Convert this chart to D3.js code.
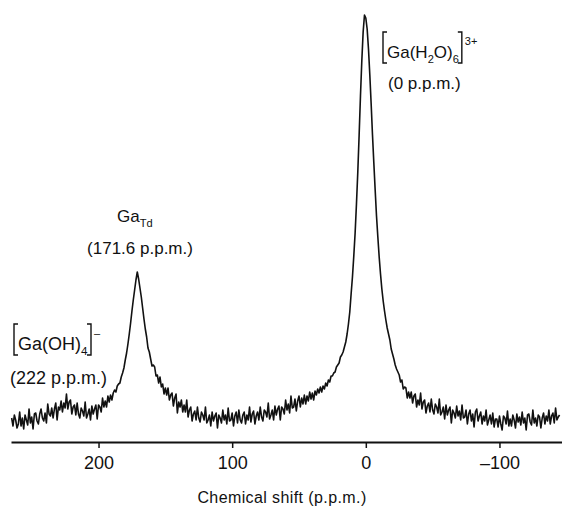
<!DOCTYPE html>
<html>
<head>
<meta charset="utf-8">
<script src="https://cdn.jsdelivr.net/npm/d3@7/dist/d3.min.js"></script>
<style>
  body { margin: 0; background: #fff; }
  text { font-family: "Liberation Sans", Arial, sans-serif; fill: #111; }
</style>
</head>
<body>
<svg id="chart" width="562" height="509"></svg>
<script>
// 71Ga spectrum, one point per p.p.m. from 265 down to -145 (arbitrary units)
var shiftStart = 265;
var shiftStep = -1;
var intensity = [
    24,16,27,22,14,18,30,16,24,13,
    27,22,17,33,19,25,13,28,29,21,
    18,28,33,24,21,29,19,38,28,26,
    34,24,33,39,22,35,32,41,30,39,
    34,48,33,40,42,28,35,37,27,39,
    28,24,34,31,26,40,24,28,33,22,
    36,28,33,37,23,37,35,30,44,35,
    41,35,46,40,47,42,49,52,50,56,
    58,59,65,69,74,82,89,98,108,119,
    131,142,152,162,170,163,154,145,134,123,
    113,105,94,90,83,76,77,75,66,67,
    59,65,55,58,48,54,47,54,42,47,
    49,36,44,48,29,40,35,42,30,37,
    30,42,25,32,35,21,28,31,22,35,
    24,20,30,27,22,35,19,22,27,16,
    30,21,26,29,14,27,24,19,32,22,
    27,18,34,21,22,29,16,26,30,19,
    32,22,19,27,30,18,27,22,35,20,
    28,31,18,26,30,22,35,25,21,32,
    30,25,39,23,27,32,22,36,27,33,
    36,22,35,33,28,42,32,38,29,46,
    34,35,43,31,41,46,35,44,38,47,
    38,46,41,50,43,49,42,51,47,53,
    49,55,50,56,53,59,56,62,60,66,
    66,69,70,75,77,79,85,87,90,95,
    100,108,118,130,148,165,186,209,238,270,
    307,346,381,410,427,424,413,393,367,338,
    307,279,252,226,205,185,168,153,141,131,
    122,114,108,102,93,88,83,77,73,70,
    67,60,62,53,55,54,44,50,44,50,
    39,46,48,35,42,37,49,33,40,42,
    29,36,39,30,43,32,28,38,35,29,
    43,27,30,35,23,37,27,32,35,19,
    32,29,24,36,26,31,22,37,24,25,
    32,18,28,32,21,28,15,30,33,21,
    26,30,18,26,21,32,17,22,27,18,
    29,15,23,23,15,26,18,12,26,24,
    18,31,16,23,16,27,22,14,28,20,
    25,17,30,19,24,12,27,28,20,17,
    32,19,24,16,27,25,14,24,29,18,
    26,21,32,18,26,29,19,34,22,25,
    27
];
var tickValues = [200, 100, 0, -100];
var axisTitle = "Chemical shift (p.p.m.)";

class SpectrumChart {
    constructor() {
        this.svg = d3.select("#chart");
        this.x = d3.scaleLinear().domain([265.5, -146.8]).range([11, 562]);
        this.y = d3.scaleLinear().domain([0, 430]).range([442, 12]);
        this.points = intensity.map((v, i) => ({ shift: shiftStart + i * shiftStep, value: v }));
        this.drawAxis();
        this.drawSpectrum();
        this.drawLabels();
    }

    drawAxis() {
        let axis = d3.axisBottom(this.x)
            .tickValues(tickValues)
            .tickSize(6)
            .tickSizeOuter(0)
            .tickPadding(8)
            .tickFormat(d => d < 0 ? "\u2013" + (-d) : d);

        let g = this.svg.append("g")
            .attr("transform", "translate(0," + this.y(0) + ")")
            .call(axis);
        g.select(".domain").attr("stroke", "#111").attr("stroke-width", 2);
        g.selectAll(".tick line").attr("stroke", "#111").attr("stroke-width", 1.5);
        g.selectAll(".tick text")
            .attr("fill", "#111")
            .style("font-family", "\"Liberation Sans\", Arial, sans-serif")
            .style("font-size", "18px");

        this.svg.append("text")
            .attr("x", 282)
            .attr("y", 503)
            .attr("text-anchor", "middle")
            .style("font-size", "16px")
            .style("letter-spacing", "0.4px")
            .text(axisTitle);
    }

    drawSpectrum() {
        let line = d3.line()
            .x(d => this.x(d.shift))
            .y(d => this.y(d.value));

        this.svg.append("path")
            .datum(this.points)
            .attr("d", line)
            .attr("fill", "none")
            .attr("stroke", "#111")
            .attr("stroke-width", 1.6)
            .attr("stroke-linejoin", "round");
    }

    // text made of plain and subscript pieces
    richText(x, y, size, parts) {
        let t = this.svg.append("text")
            .attr("x", x)
            .attr("y", y)
            .style("font-size", size + "px");
        let shifted = false;
        parts.forEach(p => {
            let s = t.append("tspan").text(p[0]);
            if (p[1] === "sub" && !shifted) { s.attr("dy", 5).style("font-size", (size * 0.65) + "px"); shifted = true; }
            else if (p[1] === "sub") { s.style("font-size", (size * 0.65) + "px"); }
            else if (shifted) { s.attr("dy", -5); shifted = false; }
        });
        return t;
    }

    bracket(x, top, bottom, dir) {
        let w = 4 * dir;
        this.svg.append("path")
            .attr("d", "M" + (x + w) + "," + top + "H" + x + "V" + bottom + "H" + (x + w))
            .attr("fill", "none")
            .attr("stroke", "#111")
            .attr("stroke-width", 1.4);
    }

    bracketed(x, y, size, parts, sup) {
        let t = this.richText(x, y, size, parts);
        let b = t.node().getBBox();
        this.bracket(x - 4, y - 26, y + 5, 1);
        let right = b.x + b.width + 3;
        this.bracket(right, y - 26, y + 5, -1);
        this.svg.append("text")
            .attr("x", right + 3)
            .attr("y", y - 13)
            .style("font-size", "11px")
            .text(sup);
    }

    drawLabels() {
        this.bracketed(387, 58, 17, [["Ga("], ["H"], ["2", "sub"], ["O)"], ["6", "sub"]], "3+");
        this.richText(388, 89, 17, [["(0 p.p.m.)"]]);

        this.richText(117, 222, 17, [["Ga"], ["Td", "sub"]]);
        this.richText(140, 254, 17, [["(171.6 p.p.m.)"]]).attr("text-anchor", "middle");

        this.bracketed(18, 350, 18, [["Ga(OH)"], ["4", "sub"]], "\u2013");
        this.richText(10, 384, 18, [["(222 p.p.m.)"]]);
    }
}

new SpectrumChart();
</script>
</body>
</html>
